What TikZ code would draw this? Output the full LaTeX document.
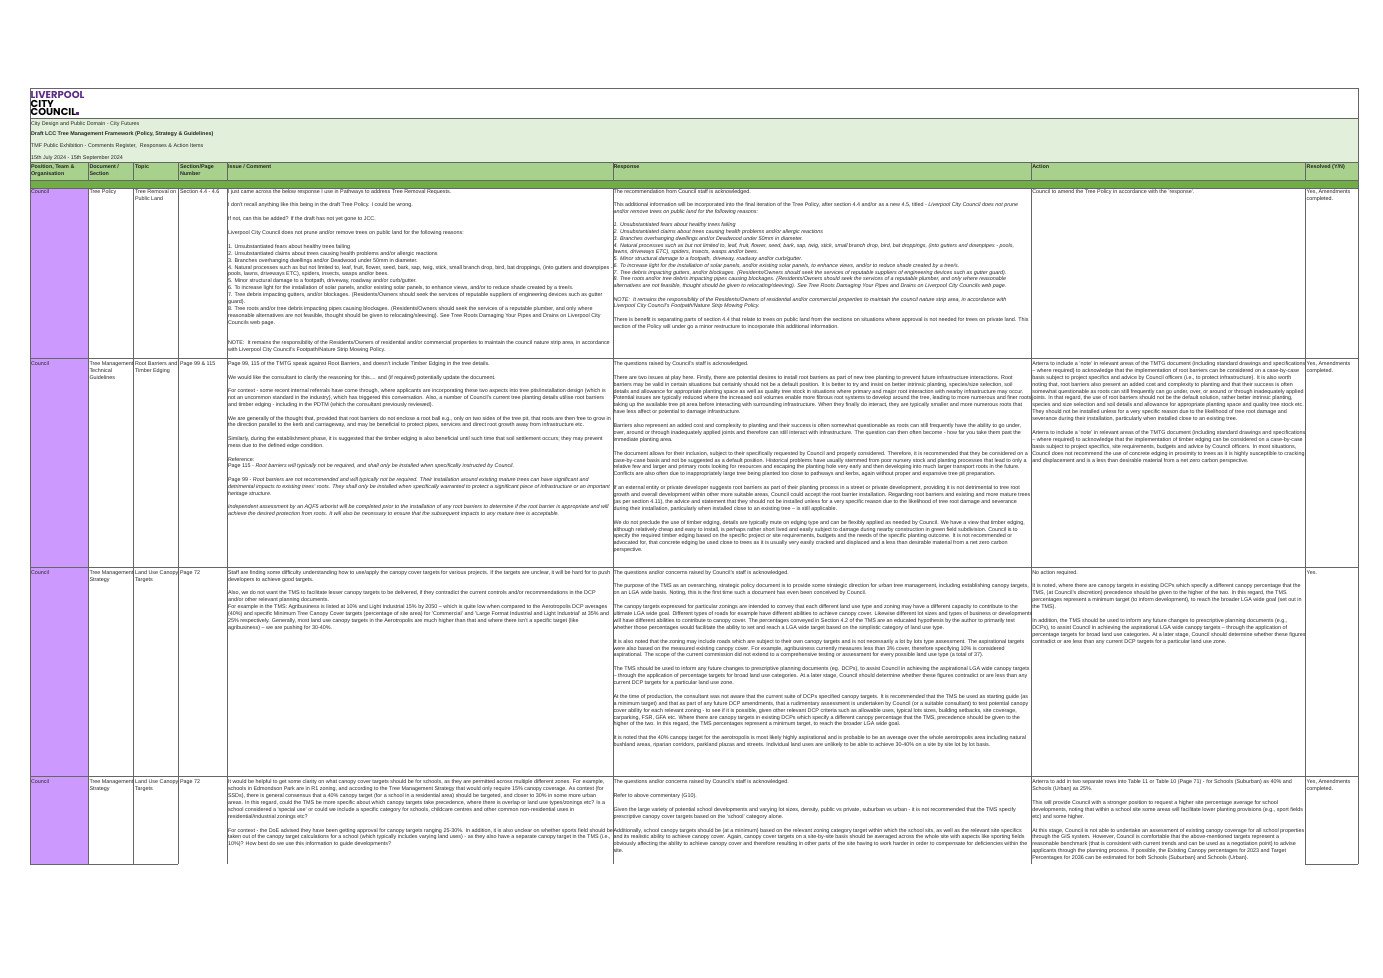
\documentclass[tikz,border=0pt]{standalone}
\usepackage{fontspec}
\setmainfont{Liberation Sans}
\newfontfamily\logofont{Poppins}
\definecolor{lightgr}{HTML}{E2EFDA}
\definecolor{headgr}{HTML}{A9D18E}
\definecolor{bandgr}{HTML}{70AD47}
\definecolor{lilac}{HTML}{CC99FF}
\definecolor{logop}{HTML}{5B2C86}
\definecolor{rulegr}{HTML}{666666}
\newcommand{\BL}{\\\mbox{}\\}
\newcommand{\BBL}{\\\mbox{}\\\mbox{}\\}
\newcommand{\Cell}[5][6.9]{\node[cellnode,font=\fontsize{5.4}{#1}\selectfont] (#2) at (#3,#4) {\rule{0pt}{5pt}#5};}
\tikzset{
  cellnode/.style={anchor=north west,inner sep=0pt,outer sep=0pt,align=left,text=black!85,yshift=-0.7pt},
  grid/.style={draw=rulegr,line width=0.8pt},
  logotext/.style={anchor=west,inner sep=0pt,font=\logofont\bfseries\fontsize{10}{10}\selectfont}
}
\begin{document}
\begin{tikzpicture}[x=1pt,y=-1pt]
\useasboundingbox (0,0) rectangle (1383,977);
\fill[white] (0,0) rectangle (1383,977);
% fills
\fill[lightgr] (30,118) rectangle (1358,162);
\fill[headgr] (30,162) rectangle (1358,180);
\fill[bandgr] (30,180) rectangle (1358,188);
\fill[lilac] (30,188) rectangle (88,864);
% grid
\draw[grid] (30,88) rectangle (1358,188);
\draw[grid] (30,118) -- (1358,118);
\draw[grid] (30,162) -- (1358,162);
\draw[grid] (30,180) -- (1358,180);
\foreach \xx in {88,133,178,227,613,1031,1305} {
  \draw[grid] (\xx,162) -- (\xx,180);
  \draw[grid] (\xx,188) -- (\xx,864);
}
\draw[grid] (30,188) -- (30,864);
\draw[grid] (1358,188) -- (1358,864);
\foreach \yy in {358,567.5,776.5} \draw[grid] (30,\yy) -- (1358,\yy);
\draw[grid] (30,864) -- (178,864);
\draw[grid] (1305,864) -- (1358,864);
% logo
\node[logotext,text=logop] (logoa) at (30.5,95) {LIVERPOOL};
\node[logotext] (logob) at (30.5,103.5) {CITY};
\node[logotext] (logoc) at (30.5,112) {COUNCIL};
\fill[logop] (76,112.2) rectangle (79,115);
% title band
\Cell{ta}{31}{119.6}{City Design and Public Domain - City Futures}
\Cell{tb}{31}{130.2}{\bfseries Draft LCC Tree Management Framework (Policy, Strategy \& Guidelines)}
\Cell{tc}{31}{141.6}{TMF Public Exhibition - Comments Register,\ \ Responses \& Action Items}
\Cell{td}{31}{153.6}{15th July 2024 - 15th September 2024}
% header
\Cell{ha}{31}{162.8}{\bfseries Position, Team \&\\\bfseries Organisation}
\Cell{hb}{89.5}{162.8}{\bfseries Document /\\\bfseries Section}
\Cell{hc}{135}{162.8}{\bfseries Topic}
\Cell{hd}{180}{162.8}{\bfseries Section/Page\\\bfseries Number}
\Cell{he}{228}{162.8}{\bfseries Issue / Comment}
\Cell{hf}{613.5}{162.8}{\bfseries Response}
\Cell{hg}{1032.3}{162.8}{\bfseries Action}
\Cell{hh}{1306.7}{162.8}{\bfseries Resolved (Y/N)}
% row 1
\Cell{ra1}{31}{187.4}{Council}
\Cell{rb1}{89.5}{187.4}{Tree Policy}
\Cell{rc1}{135}{187.4}{Tree Removal on\\Public Land}
\Cell{rd1}{180}{187.4}{Section 4.4 - 4.6}
\Cell{re1}{228}{187.4}{I just came across the below response I use in Pathways to address Tree Removal Requests.\BL
I don't recall anything like this being in the draft Tree Policy. I could be wrong.\BL
If not, can this be added? If the draft has not yet gone to JCC.\BL
Liverpool City Council does not prune and/or remove trees on public land for the following reasons:\BL
1. Unsubstantiated fears about healthy trees failing\\
2. Unsubstantiated claims about trees causing health problems and/or allergic reactions\\
3. Branches overhanging dwellings and/or Deadwood under 50mm in diameter.\\
4. Natural processes such as but not limited to, leaf, fruit, flower, seed, bark, sap, twig, stick, small branch drop, bird, bat droppings, (into gutters and downpipes -\\
pools, lawns, driveways ETC), spiders, insects, wasps and/or bees.\\
5. Minor structural damage to a footpath, driveway, roadway and/or curb/gutter.\\
6. To increase light for the installation of solar panels, and/or existing solar panels, to enhance views, and/or to reduce shade created by a tree/s.\\
7. Tree debris impacting gutters, and/or blockages. (Residents/Owners should seek the services of reputable suppliers of engineering devices such as gutter\\
guard).\\
8. Tree roots and/or tree debris impacting pipes causing blockages. (Residents/Owners should seek the services of a reputable plumber, and only where\\
reasonable alternatives are not feasible, thought should be given to relocating/sleeving). See Tree Roots Damaging Your Pipes and Drains on Liverpool City\\
Councils web page.\BBL
NOTE:\ \ It remains the responsibility of the Residents/Owners of residential and/or commercial properties to maintain the council nature strip area, in accordance\\
with Liverpool City Council's Footpath/Nature Strip Mowing Policy.}
\Cell[6.75]{rf1}{613.5}{187.4}{The recommendation from Council staff is acknowledged.\BL
This additional information will be incorporated into the final iteration of the Tree Policy, after section 4.4 and/or as a new 4.5, titled - \itshape Liverpool City Council does not prune\\
\itshape and/or remove trees on public land for the following reasons:\BL
\itshape 1. Unsubstantiated fears about healthy trees failing\\
\itshape 2. Unsubstantiated claims about trees causing health problems and/or allergic reactions\\
\itshape 3. Branches overhanging dwellings and/or Deadwood under 50mm in diameter.\\
\itshape 4. Natural processes such as but not limited to, leaf, fruit, flower, seed, bark, sap, twig, stick, small branch drop, bird, bat droppings, (into gutters and downpipes - pools,\\
\itshape lawns, driveways ETC), spiders, insects, wasps and/or bees.\\
\itshape 5. Minor structural damage to a footpath, driveway, roadway and/or curb/gutter.\\
\itshape 6. To increase light for the installation of solar panels, and/or existing solar panels, to enhance views, and/or to reduce shade created by a tree/s.\\
\itshape 7. Tree debris impacting gutters, and/or blockages. (Residents/Owners should seek the services of reputable suppliers of engineering devices such as gutter guard).\\
\itshape 8. Tree roots and/or tree debris impacting pipes causing blockages. (Residents/Owners should seek the services of a reputable plumber, and only where reasonable\\
\itshape alternatives are not feasible, thought should be given to relocating/sleeving). See Tree Roots Damaging Your Pipes and Drains on Liverpool City Councils web page.\BL
\itshape NOTE:\ \ It remains the responsibility of the Residents/Owners of residential and/or commercial properties to maintain the council nature strip area, in accordance with\\
\itshape Liverpool City Council's Footpath/Nature Strip Mowing Policy.\BL
There is benefit is separating parts of section 4.4 that relate to trees on public land from the sections on situations where approval is not needed for trees on private land. This\\
section of the Policy will under go a minor restructure to incorporate this additional information.}
\Cell{rg1}{1032.3}{187.4}{Council to amend the Tree Policy in accordance with the 'response'.}
\Cell{rh1}{1306.7}{187.4}{Yes, Amendments\\completed.}
% row 2
\Cell{ra2}{31}{359.7}{Council}
\Cell{rb2}{89.5}{359.7}{Tree Management\\Technical\\Guidelines}
\Cell{rc2}{135}{359.7}{Root Barriers and\\Timber Edging}
\Cell{rd2}{180}{359.7}{Page 99 \& 115}
\Cell[6.83]{re2}{228}{359.7}{Page 99, 115 of the TMTG speak against Root Barriers, and doesn't include Timber Edging in the tree details.\BL
We would like the consultant to clarify the reasoning for this.... and (if required) potentially update the document.\BL
For context - some recent internal referrals have come through, where applicants are incorporating these two aspects into tree pits/installation design (which is\\
not an uncommon standard in the industry), which has triggered this conversation. Also, a number of Council's current tree planting details utilise root barriers\\
and timber edging - including in the PDTM (which the consultant previously reviewed).\BL
We are generally of the thought that, provided that root barriers do not enclose a root ball e.g., only on two sides of the tree pit, that roots are then free to grow in\\
the direction parallel to the kerb and carriageway, and may be beneficial to protect pipes, services and direct root growth away from infrastructure etc.\BL
Similarly, during the establishment phase, it is suggested that the timber edging is also beneficial until such time that soil settlement occurs; they may prevent\\
mess due to the defined edge condition.\BL
Reference:\\
Page 115 - \itshape Root barriers will typically not be required, and shall only be installed when specifically instructed by Council.\BL
Page 99 - \itshape Root barriers are not recommended and will typically not be required. Their installation around existing mature trees can have significant and\\
\itshape detrimental impacts to existing trees' roots. They shall only be installed when specifically warranted to protect a significant piece of infrastructure or an important\\
\itshape heritage structure.\BL
\itshape Independent assessment by an AQF5 arborist will be completed prior to the installation of any root barriers to determine if the root barrier is appropriate and will\\
\itshape achieve the desired protection from roots. It will also be necessary to ensure that the subsequent impacts to any mature tree is acceptable.}
\Cell{rf2}{613.5}{359.7}{The questions raised by Council's staff is acknowledged.\BL
There are two issues at play here. Firstly, there are potential desires to install root barriers as part of new tree planting to prevent future infrastructure interactions. Root\\
barriers may be valid in certain situations but certainly should not be a default position. It is better to try and insist on better intrinsic planting, species/size selection, soil\\
details and allowance for appropriate planting space as well as quality tree stock in situations where primary and major root interaction with nearby infrastructure may occur.\\
Potential issues are typically reduced where the increased soil volumes enable more fibrous root systems to develop around the tree, leading to more numerous and finer roots\\
taking up the available tree pit area before interacting with surrounding infrastructure. When they finally do interact, they are typically smaller and more numerous roots that\\
have less affect or potential to damage infrastructure.\BL
Barriers also represent an added cost and complexity to planting and their success is often somewhat questionable as roots can still frequently have the ability to go under,\\
over, around or through inadequately applied joints and therefore can still interact with infrastructure. The question can then often become - how far you take them past the\\
immediate planting area.\BL
The document allows for their inclusion, subject to their specifically requested by Council and properly considered. Therefore, it is recommended that they be considered on a\\
case-by-case basis and not be suggested as a default position. Historical problems have usually stemmed from poor nursery stock and planting processes that lead to only a\\
relative few and larger and primary roots looking for resources and escaping the planting hole very early and then developing into much larger transport roots in the future.\\
Conflicts are also often due to inappropriately large tree being planted too close to pathways and kerbs, again without proper and expansive tree pit preparation.\BL
If an external entity or private developer suggests root barriers as part of their planting process in a street or private development, providing it is not detrimental to tree root\\
growth and overall development within other more suitable areas, Council could accept the root barrier installation. Regarding root barriers and existing and more mature trees\\
(as per section 4.11), the advice and statement that they should not be installed unless for a very specific reason due to the likelihood of tree root damage and severance\\
during their installation, particularly when installed close to an existing tree -- is still applicable.\BL
We do not preclude the use of timber edging, details are typically mute on edging type and can be flexibly applied as needed by Council. We have a view that timber edging,\\
although relatively cheap and easy to install, is perhaps rather short lived and easily subject to damage during nearby construction in green field subdivision. Council is to\\
specify the required timber edging based on the specific project or site requirements, budgets and the needs of the specific planting outcome. It is not recommended or\\
advocated for, that concrete edging be used close to trees as it is usually very easily cracked and displaced and a less than desirable material from a net zero carbon\\
perspective.}
\Cell{rg2}{1032.3}{359.7}{Arterra to include a 'note' in relevant areas of the TMTG document (including standard drawings and specifications\\
-- where required) to acknowledge that the implementation of root barriers can be considered on a case-by-case\\
basis subject to project specifics and advice by Council officers (i.e., to protect infrastructure). It is also worth\\
noting that, root barriers also present an added cost and complexity to planting and that their success is often\\
somewhat questionable as roots can still frequently can go under, over, or around or through inadequately applied\\
joints. In that regard, the use of root barriers should not be the default solution, rather better intrinsic planting,\\
species and size selection and soil details and allowance for appropriate planting space and quality tree stock etc.\\
They should not be installed unless for a very specific reason due to the likelihood of tree root damage and\\
severance during their installation, particularly when installed close to an existing tree.\BL
Arterra to include a 'note' in relevant areas of the TMTG document (including standard drawings and specifications\\
-- where required) to acknowledge that the implementation of timber edging can be considered on a case-by-case\\
basis subject to project specifics, site requirements, budgets and advice by Council officers. In most situations,\\
Council does not recommend the use of concrete edging in proximity to trees as it is highly susceptible to cracking\\
and displacement and is a less than desirable material from a net zero carbon perspective.}
\Cell{rh2}{1306.7}{359.7}{Yes, Amendments\\completed.}
% row 3
\Cell{ra3}{31}{568.4}{Council}
\Cell{rb3}{89.5}{568.4}{Tree Management\\Strategy}
\Cell{rc3}{135}{568.4}{Land Use Canopy\\Targets}
\Cell{rd3}{180}{568.4}{Page 72}
\Cell{re3}{228}{568.4}{Staff are finding some difficulty understanding how to use/apply the canopy cover targets for various projects. If the targets are unclear, it will be hard for to push\\
developers to achieve good targets.\BL
Also, we do not want the TMS to facilitate lesser canopy targets to be delivered, if they contradict the current controls and/or recommendations in the DCP\\
and/or other relevant planning documents.\\
For example in the TMS: Agribusiness is listed at 10\% and Light Industrial 15\% by 2050 -- which is quite low when compared to the Aerotropolis DCP averages\\
(40\%) and specific Minimum Tree Canopy Cover targets (percentage of site area) for 'Commercial' and 'Large Format Industrial and Light Industrial' at 35\% and\\
25\% respectively. Generally, most land use canopy targets in the Aerotropolis are much higher than that and where there isn't a specific target (like\\
agribusiness) -- we are pushing for 30-40\%.}
\Cell{rf3}{613.5}{568.4}{The questions and/or concerns raised by Council's staff is acknowledged.\BL
The purpose of the TMS as an overarching, strategic policy document is to provide some strategic direction for urban tree management, including establishing canopy targets,\\
on an LGA wide basis. Noting, this is the first time such a document has even been conceived by Council.\BL
The canopy targets expressed for particular zonings are intended to convey that each different land use type and zoning may have a different capacity to contribute to the\\
ultimate LGA wide goal. Different types of roads for example have different abilities to achieve canopy cover. Likewise different lot sizes and types of business or developments\\
will have different abilities to contribute to canopy cover. The percentages conveyed in Section 4.2 of the TMS are an educated hypothesis by the author to primarily test\\
whether those percentages would facilitate the ability to set and reach a LGA wide target based on the simplistic category of land use type.\BL
It is also noted that the zoning may include roads which are subject to their own canopy targets and is not necessarily a lot by lots type assessment. The aspirational targets\\
were also based on the measured existing canopy cover. For example, agribusiness currently measures less than 3\% cover, therefore specifying 10\% is considered\\
aspirational. The scope of the current commission did not extend to a comprehensive testing or assessment for every possible land use type (a total of 37).\BL
The TMS should be used to inform any future changes to prescriptive planning documents (eg. DCPs), to assist Council in achieving the aspirational LGA wide canopy targets\\
-- through the application of percentage targets for broad land use categories. At a later stage, Council should determine whether these figures contradict or are less than any\\
current DCP targets for a particular land use zone.\BL
At the time of production, the consultant was not aware that the current suite of DCPs specified canopy targets. It is recommended that the TMS be used as starting guide (as\\
a minimum target) and that as part of any future DCP amendments, that a rudimentary assessment is undertaken by Council (or a suitable consultant) to test potential canopy\\
cover ability for each relevant zoning - to see if it is possible, given other relevant DCP criteria such as allowable uses, typical lots sizes, building setbacks, site coverage,\\
carparking, FSR, GFA etc. Where there are canopy targets in existing DCPs which specify a different canopy percentage that the TMS, precedence should be given to the\\
higher of the two. In this regard, the TMS percentages represent a minimum target, to reach the broader LGA wide goal.\BL
It is noted that the 40\% canopy target for the aerotropolis is most likely highly aspirational and is probable to be an average over the whole aerotropolis area including natural\\
bushland areas, riparian corridors, parkland plazas and streets. Individual land uses are unlikely to be able to achieve 30-40\% on a site by site lot by lot basis.}
\Cell{rg3}{1032.3}{568.4}{No action required.\BL
It is noted, where there are canopy targets in existing DCPs which specify a different canopy percentage that the\\
TMS, (at Council's discretion) precedence should be given to the higher of the two. In this regard, the TMS\\
percentages represent a minimum target (to inform development), to reach the broader LGA wide goal (set out in\\
the TMS).\BL
In addition, the TMS should be used to inform any future changes to prescriptive planning documents (e.g.,\\
DCPs), to assist Council in achieving the aspirational LGA wide canopy targets -- through the application of\\
percentage targets for broad land use categories. At a later stage, Council should determine whether these figures\\
contradict or are less than any current DCP targets for a particular land use zone.}
\Cell{rh3}{1306.7}{568.4}{Yes.}
% row 4
\Cell{ra4}{31}{778}{Council}
\Cell{rb4}{89.5}{778}{Tree Management\\Strategy}
\Cell{rc4}{135}{778}{Land Use Canopy\\Targets}
\Cell{rd4}{180}{778}{Page 72}
\Cell{re4}{228}{778}{It would be helpful to get some clarity on what canopy cover targets should be for schools, as they are permitted across multiple different zones. For example,\\
schools in Edmondson Park are in R1 zoning, and according to the Tree Management Strategy that would only require 15\% canopy coverage. As context (for\\
SSDs), there is general consensus that a 40\% canopy target (for a school in a residential area) should be targeted, and closer to 30\% in some more urban\\
areas. In this regard, could the TMS be more specific about which canopy targets take precedence, where there is overlap or land use types/zonings etc? Is a\\
school considered a 'special use' or could we include a specific category for schools, childcare centres and other common non-residential uses in\\
residential/industrial zonings etc?\BL
For context - the DoE advised they have been getting approval for canopy targets ranging 25-30\%. In addition, it is also unclear on whether sports field should be\\
taken out of the canopy target calculations for a school (which typically includes varying land uses) - as they also have a separate canopy target in the TMS (i.e.,\\
10\%)? How best do we use this information to guide developments?}
\Cell{rf4}{613.5}{778}{The questions and/or concerns raised by Council's staff is acknowledged.\BL
Refer to above commentary (G10).\BL
Given the large variety of potential school developments and varying lot sizes, density, public vs private, suburban vs urban - it is not recommended that the TMS specify\\
prescriptive canopy cover targets based on the 'school' category alone.\BL
Additionally, school canopy targets should be (at a minimum) based on the relevant zoning category target within which the school sits, as well as the relevant site specifics\\
and its realistic ability to achieve canopy cover. Again, canopy cover targets on a site-by-site basis should be averaged across the whole site with aspects like sporting fields\\
obviously affecting the ability to achieve canopy cover and therefore resulting in other parts of the site having to work harder in order to compensate for deficiencies within the\\
site.}
\Cell{rg4}{1032.3}{778}{Arterra to add in two separate rows into Table 11 or Table 10 (Page 71) - for Schools (Suburban) as 40\% and\\
Schools (Urban) as 25\%.\BL
This will provide Council with a stronger position to request a higher site percentage average for school\\
developments, noting that within a school site some areas will facilitate lower planting provisions (e.g., sport fields\\
etc) and some higher.\BL
At this stage, Council is not able to undertake an assessment of existing canopy coverage for all school properties\\
through the GIS system. However, Council is comfortable that the above-mentioned targets represent a\\
reasonable benchmark (that is consistent with current trends and can be used as a negotiation point) to advise\\
applicants through the planning process. If possible, the Existing Canopy percentages for 2023 and Target\\
Percentages for 2036 can be estimated for both Schools (Suburban) and Schools (Urban).}
\Cell{rh4}{1306.7}{778}{Yes, Amendments\\completed.}
\end{tikzpicture}
\end{document}
